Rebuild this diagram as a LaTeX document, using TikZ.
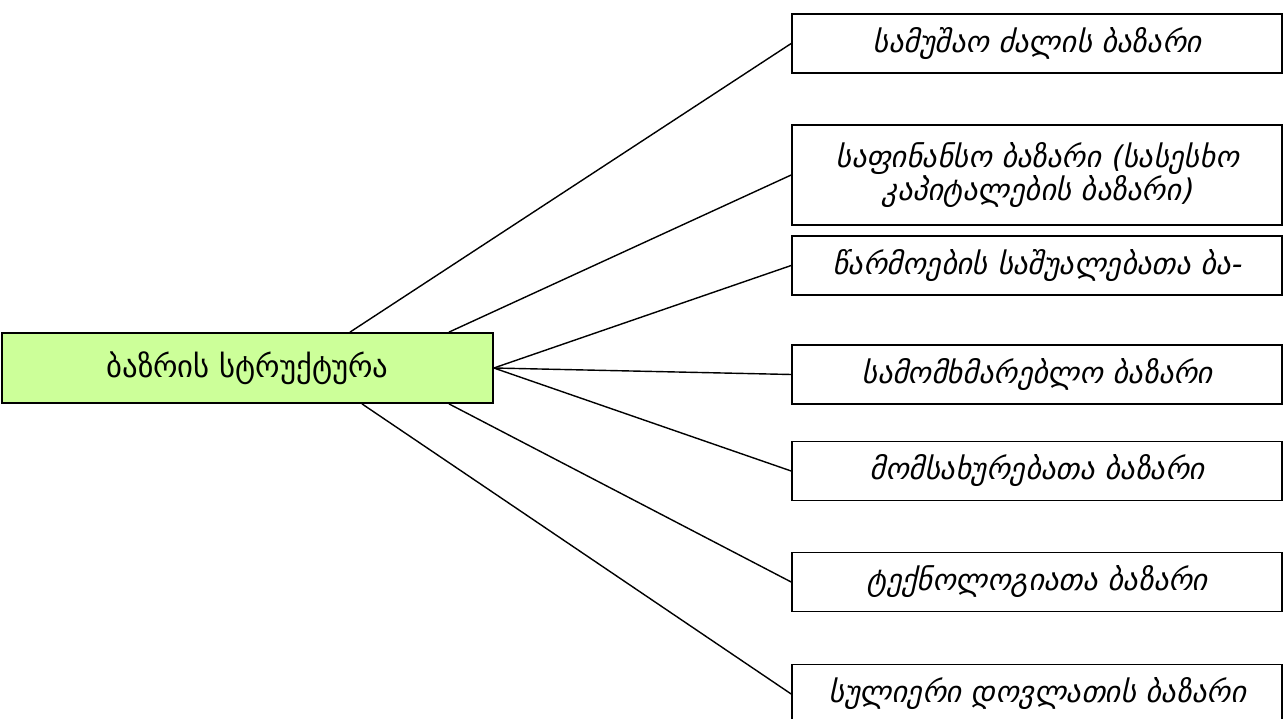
\documentclass[tikz,border=0pt]{standalone}
\usepackage{fontspec}
\newfontfamily\geofont[Script=Georgian]{DejaVu Sans}
\newfontfamily\geoslant[Script=Georgian,FakeSlant=0.22]{DejaVu Sans}
\usetikzlibrary{positioning}
\definecolor{rootgreen}{RGB}{204,255,153}
\tikzset{
    rootbox/.style={draw, line width=1pt, fill=rootgreen, minimum width=9.82cm, minimum height=1.4cm, inner sep=0pt, font=\geofont\fontsize{17.5}{19}\selectfont},
    mktbox/.style={draw, line width=1pt, fill=white, minimum width=9.8cm, minimum height=1.18cm, inner sep=0pt, align=center, font=\geoslant\fontsize{17}{19}\selectfont},
    link/.style={line width=0.8pt}
}
\begin{document}
\begin{tikzpicture}[x=0.02cm,y=-0.02cm]
    \useasboundingbox (0,0) rectangle (1288,719);
    % centre
    \node[rootbox] (root) at (247.5,368) {ბაზრის სტრუქტურა};
    % markets
    \node[mktbox] (labour) at (1037,43.5) {სამუშაო ძალის ბაზარი};
    \node[mktbox, minimum height=2cm] (finance) at (1037,175) {საფინანსო ბაზარი (სასესხო\\კაპიტალების ბაზარი)};
    \node[mktbox] (means) at (1037,265.5) {წარმოების საშუალებათა ბა-};
    \node[mktbox] (consumer) at (1037,374.5) {სამომხმარებლო ბაზარი};
    \node[mktbox] (services) at (1037,471) {მომსახურებათა ბაზარი};
    \node[mktbox] (techno) at (1037,582) {ტექნოლოგიათა ბაზარი};
    \node[mktbox] (wealth) at (1037,694) {სულიერი დოვლათის ბაზარი};
    % links
    \draw[link] ([xshift=2.05cm]root.north) -- (labour.west);
    \draw[link] ([xshift=4.03cm]root.north) -- (finance.west);
    \foreach \m in {means,consumer,services}
        \draw[link] (root.east) -- (\m.west);
    \draw[link] ([xshift=4.03cm]root.south) -- (techno.west);
    \draw[link] ([xshift=2.29cm]root.south) -- (wealth.west);
\end{tikzpicture}
\end{document}
